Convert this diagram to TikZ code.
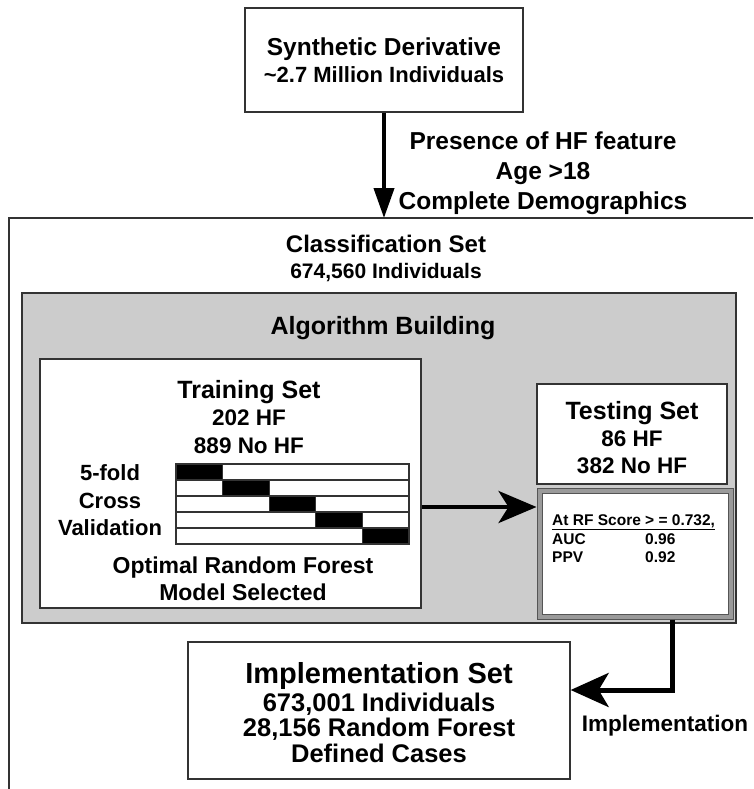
\documentclass[tikz,border=0pt]{standalone}
\usepackage{fontspec}
\setmainfont{Liberation Sans}
\usetikzlibrary{arrows.meta}
\definecolor{frame}{HTML}{333333}
\definecolor{panel}{HTML}{CCCCCC}
\definecolor{statframe}{HTML}{555555}
\definecolor{statband}{HTML}{9A9A9A}
\begin{document}
\begin{tikzpicture}[x=1pt,y=-1pt,
  fsz/.style={font=\bfseries\fontsize{#1}{#1}\selectfont},
  txt/.style={inner sep=0pt,anchor=base},
  boxnode/.style={draw=frame,line width=1.3pt,fill=white,inner sep=0pt,rectangle},
  thickarrow/.style={line width=4pt,draw=black},
  cellline/.style={draw=frame,line width=1.1pt}
]
\useasboundingbox (0,0) rectangle (753,789);

% outer classification frame (open, cropped)
\draw[draw=frame,line width=1.4pt] (753,218) -- (9,218) -- (9,789);
\coordinate (clsTop) at (384,218);

% boxes
\node[boxnode,minimum width=278pt,minimum height=104pt] (sd) at (384,60) {};
\node[boxnode,fill=panel,minimum width=714pt,minimum height=330pt] (alg) at (379,458) {};
\node[boxnode,minimum width=381pt,minimum height=249pt] (train) at (230.5,483.5) {};
\node[boxnode,minimum width=190pt,minimum height=100pt] (test) at (632,434) {};
\node[draw=statframe,fill=statband,line width=1pt,inner sep=0pt,minimum width=196pt,minimum height=131pt] (stats) at (635,553.5) {};
\node[draw=statframe,fill=white,line width=1pt,inner sep=0pt,minimum width=186pt,minimum height=121pt] (statsin) at (stats.center) {};
\node[boxnode,minimum width=382pt,minimum height=137pt] (impl) at (379,710.5) {};

% 5-fold grid
\foreach \i in {0,...,4}{
  \draw[cellline,fill=white] (176,464+16*\i) rectangle (409,480+16*\i);
  \draw[cellline,fill=black] (176+46.6*\i,464+16*\i) rectangle (176+46.6*\i+46.6,480+16*\i);
}

% texts
\node[txt,fsz=24.5] (t1) at (384,56) {Synthetic Derivative};
\node[txt,fsz=22] (t2) at (384,83) {\textasciitilde2.7 Million Individuals};
\node[txt,fsz=24.5] (c1) at (543,149) {Presence of HF feature};
\node[txt,fsz=24.5] (c2) at (543,179) {Age >18};
\node[txt,fsz=24.5] (c3) at (543,209) {Complete Demographics};
\node[txt,fsz=24] (cl1) at (386,252) {Classification Set};
\node[txt,fsz=21] (cl2) at (386,278.5) {674,560 Individuals};
\node[txt,fsz=25] (ab) at (383,334) {Algorithm Building};
\node[txt,fsz=25] (tr1) at (249,398) {Training Set};
\node[txt,fsz=22.5] (tr2) at (249,425) {202 HF};
\node[txt,fsz=22.5] (tr3) at (249,453) {889 No HF};
\node[txt,fsz=22] (cv1) at (110,480) {5-fold};
\node[txt,fsz=22] (cv2) at (110,508) {Cross};
\node[txt,fsz=22] (cv3) at (110,535) {Validation};
\node[txt,fsz=23] (op1) at (243,573) {Optimal Random Forest};
\node[txt,fsz=23] (op2) at (243,600) {Model Selected};
\node[txt,fsz=25] (te1) at (632,419) {Testing Set};
\node[txt,fsz=22.5] (te2) at (632,446) {86 HF};
\node[txt,fsz=22.5] (te3) at (632,473) {382 No HF};
\node[txt,anchor=base west,fsz=15.5] (s1) at (552,525) {\underline{At RF Score > = 0.732,}};
\node[txt,anchor=base west,fsz=15.5] (s2) at (552,544) {AUC};
\node[txt,anchor=base west,fsz=15.5] (s3) at (645,544) {0.96};
\node[txt,anchor=base west,fsz=15.5] (s4) at (552,562) {PPV};
\node[txt,anchor=base west,fsz=15.5] (s5) at (645,562) {0.92};
\node[txt,fsz=29] (im1) at (379,683.5) {Implementation Set};
\node[txt,fsz=25.5] (im2) at (379,711) {673,001 Individuals};
\node[txt,fsz=25.5] (im3) at (379,736) {28,156 Random Forest};
\node[txt,fsz=25.5] (im4) at (379,762) {Defined Cases};
\node[txt,fsz=22.5] (implab) at (665,731) {Implementation};

% connectors
\coordinate (midY) at (0,507);
\coordinate (implX) at (672,0);
\coordinate (implY) at (0,690);
\draw[thickarrow,-{Triangle[length=30pt,width=20pt]}] (sd.south) -- (clsTop);
\draw[thickarrow,-{Stealth[length=38pt,width=32pt,inset=10pt]}] (train.east |- midY) -- (stats.west |- midY);
\draw[thickarrow,line width=5pt,-{Stealth[length=38pt,width=34pt,inset=10pt]}] (implX |- stats.south) |- (impl.east |- implY);
\end{tikzpicture}
\end{document}
